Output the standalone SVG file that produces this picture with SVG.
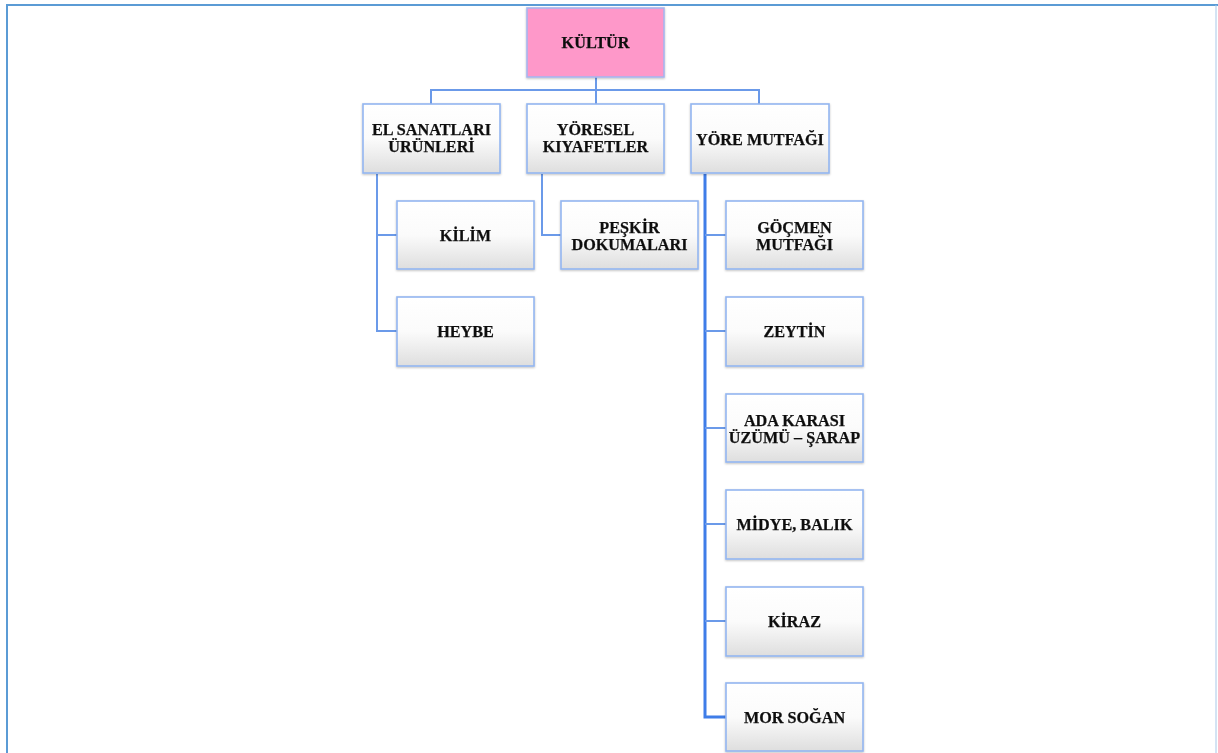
<svg xmlns="http://www.w3.org/2000/svg" width="1218" height="753" viewBox="0 0 1218 753">
<style>
.box{fill:url(#g);stroke:#93b6f0;stroke-width:1.6}
.root{fill:#fe98c9;stroke:#a7b6ee;stroke-width:1.6}
.t{font-family:"Liberation Serif","Times New Roman",serif;font-weight:bold;font-size:16.2px;fill:#111;text-anchor:middle;stroke:#111;stroke-width:0.25}
.c{fill:none;stroke:#6b9ae9;stroke-width:2}
.ct{fill:none;stroke:#3f7de8;stroke-width:3}
</style>
<defs>
<linearGradient id="g" x1="0" y1="0" x2="0" y2="1">
<stop offset="0" stop-color="#ffffff"/>
<stop offset="0.5" stop-color="#fbfbfb"/>
<stop offset="1" stop-color="#dedede"/>
</linearGradient>
<filter id="sh" x="-10%" y="-10%" width="120%" height="130%">
<feDropShadow dx="0" dy="1" stdDeviation="0.8" flood-color="#000" flood-opacity="0.25"/>
</filter>
</defs>
<rect width="1218" height="753" fill="#ffffff"/>
<g id="frame" fill="none" stroke="#5b9bd5">
<line x1="6" y1="5" x2="1218" y2="5" stroke-width="2"/>
<line x1="7" y1="4" x2="7" y2="753" stroke-width="2"/>
<line x1="1216" y1="5" x2="1216" y2="753" stroke-width="1" stroke="#a9c8e8"/>
</g>
<g id="connectors">
<path class="c" d="M596 77 V90 M431 104 V90 H759 V104 M596 90 V104"/>
<path class="c" d="M377 174 V331 H397 M377 235 H397"/>
<path class="c" d="M542 174 V235 H561"/>
<path class="ct" d="M705 174 V717 H726"/>
<path class="c" d="M705 235 H726 M705 331 H726 M705 428 H726 M705 524 H726 M705 621 H726"/>
</g>
<g id="n-kultur" filter="url(#sh)"><rect class="root" x="527" y="8" width="137" height="69"/><text class="t" x="595.5" y="48">KÜLTÜR</text></g>
<g id="n-el" filter="url(#sh)"><rect class="box" x="363" y="104" width="137" height="69"/><text class="t" x="431.5" y="135">EL SANATLARI</text><text class="t" x="431.5" y="152">ÜRÜNLERİ</text></g>
<g id="n-yoresel" filter="url(#sh)"><rect class="box" x="527" y="104" width="137" height="69"/><text class="t" x="595.5" y="135">YÖRESEL</text><text class="t" x="595.5" y="152">KIYAFETLER</text></g>
<g id="n-mutfak" filter="url(#sh)"><rect class="box" x="691" y="104" width="138" height="69"/><text class="t" x="760" y="144.5">YÖRE MUTFAĞI</text></g>
<g id="n-kilim" filter="url(#sh)"><rect class="box" x="397" y="201" width="137" height="68"/><text class="t" x="465.5" y="241">KİLİM</text></g>
<g id="n-heybe" filter="url(#sh)"><rect class="box" x="397" y="297" width="137" height="69"/><text class="t" x="465.5" y="337">HEYBE</text></g>
<g id="n-peskir" filter="url(#sh)"><rect class="box" x="561" y="201" width="137" height="68"/><text class="t" x="629.5" y="233">PEŞKİR</text><text class="t" x="629.5" y="249.5">DOKUMALARI</text></g>
<g id="n-gocmen" filter="url(#sh)"><rect class="box" x="726" y="201" width="137" height="68"/><text class="t" x="794.5" y="233">GÖÇMEN</text><text class="t" x="794.5" y="249.5">MUTFAĞI</text></g>
<g id="n-zeytin" filter="url(#sh)"><rect class="box" x="726" y="297" width="137" height="69"/><text class="t" x="794.5" y="337">ZEYTİN</text></g>
<g id="n-ada" filter="url(#sh)"><rect class="box" x="726" y="394" width="137" height="68"/><text class="t" x="794.5" y="426">ADA KARASI</text><text class="t" x="794.5" y="442.5">ÜZÜMÜ – ŞARAP</text></g>
<g id="n-midye" filter="url(#sh)"><rect class="box" x="726" y="490" width="137" height="69"/><text class="t" x="794.5" y="530">MİDYE, BALIK</text></g>
<g id="n-kiraz" filter="url(#sh)"><rect class="box" x="726" y="587" width="137" height="69"/><text class="t" x="794.5" y="627">KİRAZ</text></g>
<g id="n-mor" filter="url(#sh)"><rect class="box" x="726" y="683" width="137" height="68"/><text class="t" x="794.5" y="723">MOR SOĞAN</text></g>
</svg>
